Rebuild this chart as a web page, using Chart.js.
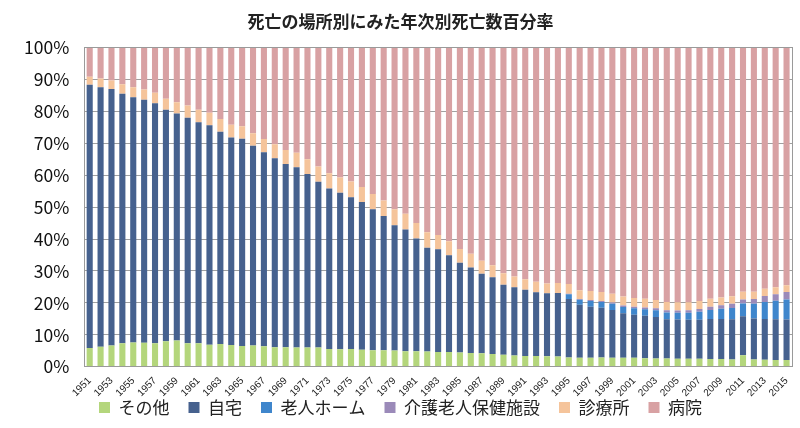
<!DOCTYPE html>
<html>
<head>
<meta charset="utf-8">
<script src="https://cdn.jsdelivr.net/npm/chart.js@4/dist/chart.umd.min.js"></script>
<style>
  body { margin: 0; background: #fff; }
  #wrap { width: 800px; height: 428px; }
</style>
</head>
<body>
<div id="wrap"><canvas id="chart"></canvas></div>
<script>
// 年次 1951-2015
const years = [];
for (let y = 1951; y <= 2015; y++) years.push(String(y));

const sonota = [5.9,6.3,6.7,7.4,7.6,7.5,7.4,8.0,8.2,7.4,7.4,6.9,7.1,6.8,6.5,6.7,
  6.4,6.1,6.1,6.0,6.0,6.0,5.6,5.5,5.6,5.3,5.2,5.2,5.1,4.9,4.9,4.8,
  4.6,4.6,4.5,4.3,4.2,4.0,3.8,3.5,3.4,3.4,3.3,3.2,2.9,2.8,2.8,2.9,
  2.8,2.8,2.8,2.7,2.6,2.6,2.5,2.5,2.5,2.4,2.4,2.3,3.6,2.3,2.2,2.1,2.1];

const jitaku = [82.4,81.2,80.3,78.1,76.8,76.1,75.1,72.5,71.1,70.6,69.2,68.7,66.5,65.0,64.9,62.5,
  60.8,59.2,57.4,56.5,54.4,51.9,50.2,49.0,47.5,46.3,44.1,42.0,39.2,38.1,35.3,32.5,
  32.2,30.3,28.1,26.8,24.9,24.0,21.9,21.4,20.7,19.9,19.7,19.9,18.3,16.6,16.0,15.6,
  15.0,14.0,13.5,13.3,13.0,12.3,12.3,12.2,12.2,12.6,12.6,12.6,12.2,12.8,12.8,12.8,12.7];

const roujinHome = [0,0,0,0,0,0,0,0,0,0,0,0,0,0,0,0,
  0,0,0,0,0,0,0,0,0,0,0,0,0,0,0,0,
  0,0,0,0,0,0,0,0,0,0,0,0,1.5,1.6,1.8,1.8,
  1.9,1.9,2.0,2.0,2.1,2.1,2.1,2.2,2.5,2.8,3.2,3.5,4.0,4.6,5.3,5.8,6.3];

const rouken = [0,0,0,0,0,0,0,0,0,0,0,0,0,0,0,0,
  0,0,0,0,0,0,0,0,0,0,0,0,0,0,0,0,
  0,0,0,0,0,0,0,0,0,0,0,0,0.2,0.2,0.3,0.3,
  0.4,0.5,0.5,0.6,0.6,0.7,0.7,0.8,0.9,1.0,1.1,1.3,1.3,1.5,1.9,2.0,2.3];

const shinryojo = [2.5,2.8,2.6,3.0,3.1,3.2,3.3,3.4,3.5,3.8,3.9,3.9,4.0,4.0,3.9,3.9,
  4.1,4.4,4.4,4.5,4.6,4.8,4.8,4.8,4.9,4.7,4.8,4.9,5.0,4.9,4.8,4.8,
  4.5,4.4,4.3,4.3,4.1,3.8,3.6,3.4,3.3,3.3,3.1,3.1,3.0,2.8,2.8,2.8,
  2.8,2.8,2.7,2.7,2.6,2.6,2.6,2.5,2.5,2.5,2.4,2.4,2.4,2.3,2.2,2.2,2.1];

const byoin = [9.2,9.7,10.4,11.5,12.5,13.2,14.2,16.1,17.2,18.2,19.5,20.5,22.4,24.2,24.7,26.9,
  28.7,30.3,32.1,33.0,35.0,37.3,39.4,40.7,42.0,43.7,45.9,47.9,50.7,52.1,55.0,57.9,
  58.7,60.7,63.1,64.6,66.8,68.2,70.7,71.7,72.6,73.4,73.9,73.8,74.1,76.0,76.3,76.6,
  77.1,78.0,78.5,78.7,79.1,79.7,79.8,79.8,79.4,78.7,78.3,77.9,76.5,76.5,75.6,75.1,74.5];

const yTicks = [0,10,20,30,40,50,60,70,80,90,100];

const FONT = "'Noto Sans CJK JP', 'Noto Sans', sans-serif";

// プロット枠
const frame = {
  id: 'frame',
  afterDraw(chart) {
    const a = chart.chartArea, c = chart.ctx;
    c.save();
    c.strokeStyle = '#9a9a9a';
    c.lineWidth = 1;
    c.strokeRect(Math.round(a.left) + 0.5, Math.round(a.top) + 0.5,
      Math.round(a.right - a.left), Math.round(a.bottom - a.top));
    c.restore();
  }
};

// 凡例: 横の間隔はそのまま、縦の余白だけ詰める
const tightLegend = {
  id: 'tightLegend',
  afterInit(chart) {
    const lg = chart.legend;
    const fit = lg.fit, draw = lg.draw;
    lg.fit = function () { fit.call(this); this.height = 25; };
    lg.draw = function () {
      const t = this.top;
      this.top = t - 19;
      draw.call(this);
      this.top = t;
    };
  }
};

const mk = (label, data, color) => ({
  label: label,
  data: data,
  backgroundColor: color,
  borderWidth: 0,
  categoryPercentage: 1.0,
  barPercentage: 0.56
});

const ctx = document.getElementById('chart').getContext('2d');
new Chart(ctx, {
  type: 'bar',
  data: {
    labels: years,
    datasets: [
      mk('その他', sonota, '#b4d67c'),
      mk('自宅', jitaku, '#46618e'),
      mk('老人ホーム', roujinHome, '#3f86cc'),
      mk('介護老人保健施設', rouken, '#9b8ab9'),
      mk('診療所', shinryojo, '#f5c49b'),
      mk('病院', byoin, '#d8a1a3')
    ]
  },
  options: {
    responsive: true,
    maintainAspectRatio: false,
    animation: false,
    layout: { padding: { left: 9, right: 8, top: 8, bottom: 4 } },
    plugins: {
      title: {
        display: true,
        text: '死亡の場所別にみた年次別死亡数百分率',
        color: '#222',
        font: { family: FONT, size: 17, weight: 'bold' },
        padding: { top: 3, bottom: 16 }
      },
      legend: {
        position: 'bottom',
        labels: {
          color: '#222',
          font: { family: FONT, size: 17 },
          boxWidth: 11,
          boxHeight: 11,
          padding: 19
        }
      },
      tooltip: { enabled: false }
    },
    scales: {
      x: {
        stacked: true,
        grid: { display: false },
        border: { color: '#9a9a9a' },
        ticks: {
          autoSkip: false,
          maxRotation: 45,
          minRotation: 45,
          color: '#222',
          font: { family: "'Liberation Sans', Arial, sans-serif", size: 10 },
          padding: 0,
          callback: function (v, i) { return i % 2 === 0 ? years[i] : ''; }
        }
      },
      y: {
        stacked: true,
        min: 0,
        max: 100,
        afterBuildTicks: (axis) => { axis.ticks = yTicks.map(v => ({ value: v })); },
        grid: { color: '#a0a0a0', drawTicks: false },
        border: { color: '#9a9a9a' },
        ticks: {
          color: '#111',
          font: { family: FONT, size: 17.5 },
          padding: 15,
          callback: (v) => v + '%'
        }
      }
    }
  },
  plugins: [frame, tightLegend]
});
</script>
</body>
</html>
